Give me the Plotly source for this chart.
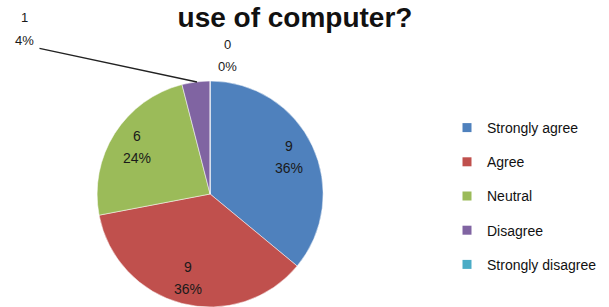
import math
import plotly.graph_objects as go

categories = ["Strongly agree", "Agree", "Neutral", "Disagree", "Strongly disagree"]
counts = [9, 9, 6, 1, 0]
colors = ["#4F81BD", "#C0504D", "#9BBB59", "#8064A2", "#4BACC6"]
title_text = "use of computer?"

W, H = 609, 307
T, B = 81, 0
plot_h = H - T - B
PIE_CX = 0.345          # pie domain centre (paper x)
PIE_CX_PX = PIE_CX * W
PIE_CY_PX = T + plot_h / 2
PIE_R_PX = plot_h / 2
LABEL_R = 0.77          # data-label radius as fraction of pie radius
LINE_GAP = 11           # half spacing between the two label lines (px)

total = sum(counts)
pcts = [round(100 * c / total) for c in counts]
inside = [c / total >= 0.1 for c in counts]

FONT = "Liberation Sans, Arial, sans-serif"

fig = go.Figure()
fig.add_trace(go.Pie(
    labels=categories,
    values=counts,
    textinfo="none",
    marker=dict(colors=colors, line=dict(color="white", width=0.5)),
    sort=False,
    direction="clockwise",
    rotation=0,
    showlegend=False,
    hoverinfo="label+value+percent",
    domain=dict(x=[PIE_CX - 0.2, PIE_CX + 0.2], y=[0, 1]),
))

# legend entries
for name, col in zip(categories, colors):
    fig.add_trace(go.Scatter(
        x=[None], y=[None], mode="markers", name=name, legendgroup=name,
        marker=dict(symbol="square", size=9, color=col),
    ))

def px_to_paper(px, py):
    return px / W, (H - B - py) / plot_h

def add_label(px, py, value, pct, size=14):
    for txt, dy in ((f"{value}", -LINE_GAP), (f"{pct}%", LINE_GAP)):
        x, y = px_to_paper(px, py + dy)
        fig.add_annotation(x=x, y=y, xref="paper", yref="paper", text=txt,
                           xanchor="center", yanchor="middle", showarrow=False,
                           font=dict(family=FONT, size=size, color="#1a1a1a"))

# data labels of the large slices, placed at each slice's mid-angle
cum = 0
for c, p, ins in zip(counts, pcts, inside):
    mid = (cum + c / 2) / total * 2 * math.pi
    cum += c
    if ins:
        lx = PIE_CX_PX + LABEL_R * PIE_R_PX * math.sin(mid)
        ly = PIE_CY_PX - LABEL_R * PIE_R_PX * math.cos(mid)
        add_label(lx, ly, c, p)

# small-slice labels (Disagree with leader line, Strongly disagree)
small_idx = [i for i, ins in enumerate(inside) if not ins]
dis_i, sd_i = small_idx[0], small_idx[1]
add_label(24, 29, counts[dis_i], pcts[dis_i], size=13)
hx, hy = px_to_paper(197, 82)
fig.add_annotation(x=hx, y=hy, xref="paper", yref="paper", text="", showarrow=True,
                   ax=38 - 197, ay=48 - 82, arrowhead=0, arrowwidth=1.3, arrowcolor="#222")
add_label(227, 56, counts[sd_i], pcts[sd_i], size=13)

lgx, lgy = px_to_paper(447, 112)
fig.update_layout(
    width=W, height=H,
    margin=dict(l=0, r=0, t=T, b=B, autoexpand=False),
    paper_bgcolor="white", plot_bgcolor="white",
    title=dict(text=f"<b>{title_text}</b>", x=295 / W, xanchor="center",
               y=1 - 17 / H, yanchor="middle", yref="container",
               font=dict(family=FONT, size=28, color="#111")),
    xaxis=dict(visible=False), yaxis=dict(visible=False),
    legend=dict(x=lgx, y=lgy, xanchor="left", yanchor="top",
                font=dict(family=FONT, size=14, color="#111"),
                tracegroupgap=13, itemclick=False, itemdoubleclick=False),
)

fig.write_html("out.html",
               config={"displayModeBar": False},
               post_script="document.body.style.margin='0';document.body.style.padding='0';")
